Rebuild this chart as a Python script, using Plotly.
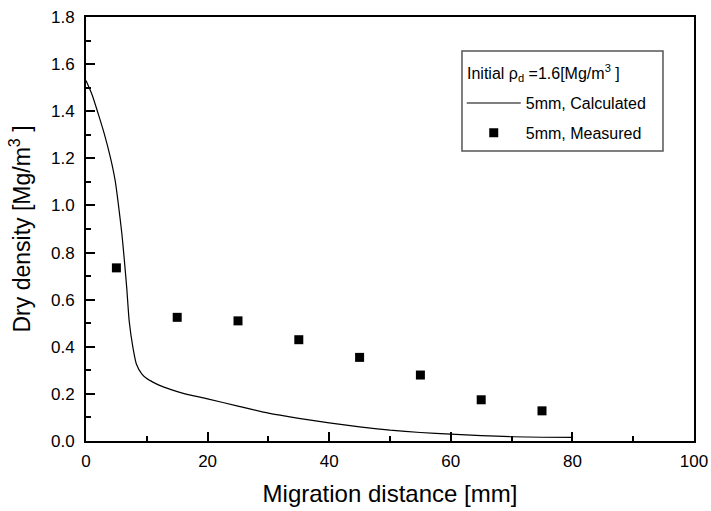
import plotly.graph_objects as go

# Calculated curve (5mm)
calc_x = [0, 1, 2, 3, 4, 4.8, 5.3, 5.9, 6.3, 6.7, 7.1, 7.7, 8.3, 9.2, 10, 11, 12.2,
          14, 16, 20, 25, 30, 35, 40, 45, 50, 55, 60, 65, 70, 75, 80]
calc_y = [1.53, 1.47, 1.39, 1.305, 1.205, 1.105, 1.01, 0.88, 0.77, 0.65, 0.51, 0.40,
          0.326, 0.284, 0.265, 0.25, 0.235, 0.218, 0.202, 0.179, 0.148, 0.118, 0.096,
          0.077, 0.06, 0.046, 0.036, 0.029, 0.023, 0.018, 0.016, 0.015]

# Measured points (5mm)
meas_x = [5, 15, 25, 35, 45, 55, 65, 75]
meas_y = [0.735, 0.525, 0.51, 0.43, 0.355, 0.28, 0.175, 0.128]

x_ticks = [0, 20, 40, 60, 80, 100]
y_ticks = [0.0, 0.2, 0.4, 0.6, 0.8, 1.0, 1.2, 1.4, 1.6, 1.8]

legend_title = "Initial ρ<sub>d</sub> =1.6[Mg/m<sup>3</sup> ]"

FONT = "Arial, Liberation Sans, Helvetica, sans-serif"

fig = go.Figure()
fig.add_trace(go.Scatter(
    x=calc_x, y=calc_y, mode="lines", name="5mm, Calculated",
    line=dict(color="black", width=1.2, shape="spline", smoothing=0.5), legendgroup="a"))
fig.add_trace(go.Scatter(
    x=meas_x, y=meas_y, mode="markers", name="5mm, Measured",
    marker=dict(symbol="square", size=9, color="black"), legendgroup="b"))

axis_common = dict(
    showline=True, linecolor="black", linewidth=2, mirror=True,
    ticks="inside", ticklen=9, tickwidth=1.5, tickcolor="black",
    showgrid=False, zeroline=False, automargin=False,
    tickfont=dict(family=FONT, size=17, color="black"),
)

fig.update_layout(
    width=711, height=511,
    margin=dict(l=86, r=17, t=17, b=70),
    paper_bgcolor="white", plot_bgcolor="white",
    font=dict(family=FONT, color="black"),
    xaxis=dict(
        range=[0, 100], tickvals=x_ticks, ticklabelstandoff=4,
        minor=dict(ticks="inside", ticklen=5, tickwidth=1.5, tickcolor="black", dtick=10),
        title=dict(text="Migration distance [mm]", font=dict(family=FONT, size=24), standoff=15),
        **axis_common),
    yaxis=dict(
        range=[0, 1.8], tickvals=y_ticks, tickformat=".1f", ticklabelstandoff=6,
        minor=dict(ticks="inside", ticklen=5, tickwidth=1.5, tickcolor="black", dtick=0.1),
        title=dict(text="Dry density [Mg/m<sup>3</sup> ]", font=dict(family=FONT, size=23), standoff=14),
        **axis_common),
    showlegend=True,
    legend=dict(
        x=0.618, y=0.837, xanchor="left", yanchor="top",
        bgcolor="rgba(0,0,0,0)", borderwidth=0,
        font=dict(family=FONT, size=16, color="black"),
        itemwidth=54, tracegroupgap=6,
    ),
    shapes=[dict(type="rect", xref="paper", yref="paper",
                 x0=0.6184, x1=0.949, y0=0.684, y1=0.920,
                 line=dict(color="#555", width=1.5), layer="above")],
    annotations=[dict(text=legend_title, xref="paper", yref="paper",
                      x=0.6234, y=0.868, xanchor="left", yanchor="middle",
                      showarrow=False, font=dict(family=FONT, size=16, color="black"))],
)

# remove the page's default body margin so the 711x511 figure fills the window
fig.write_html("out.html", config={"displayModeBar": False},
               post_script="document.body.style.margin='0px';")
